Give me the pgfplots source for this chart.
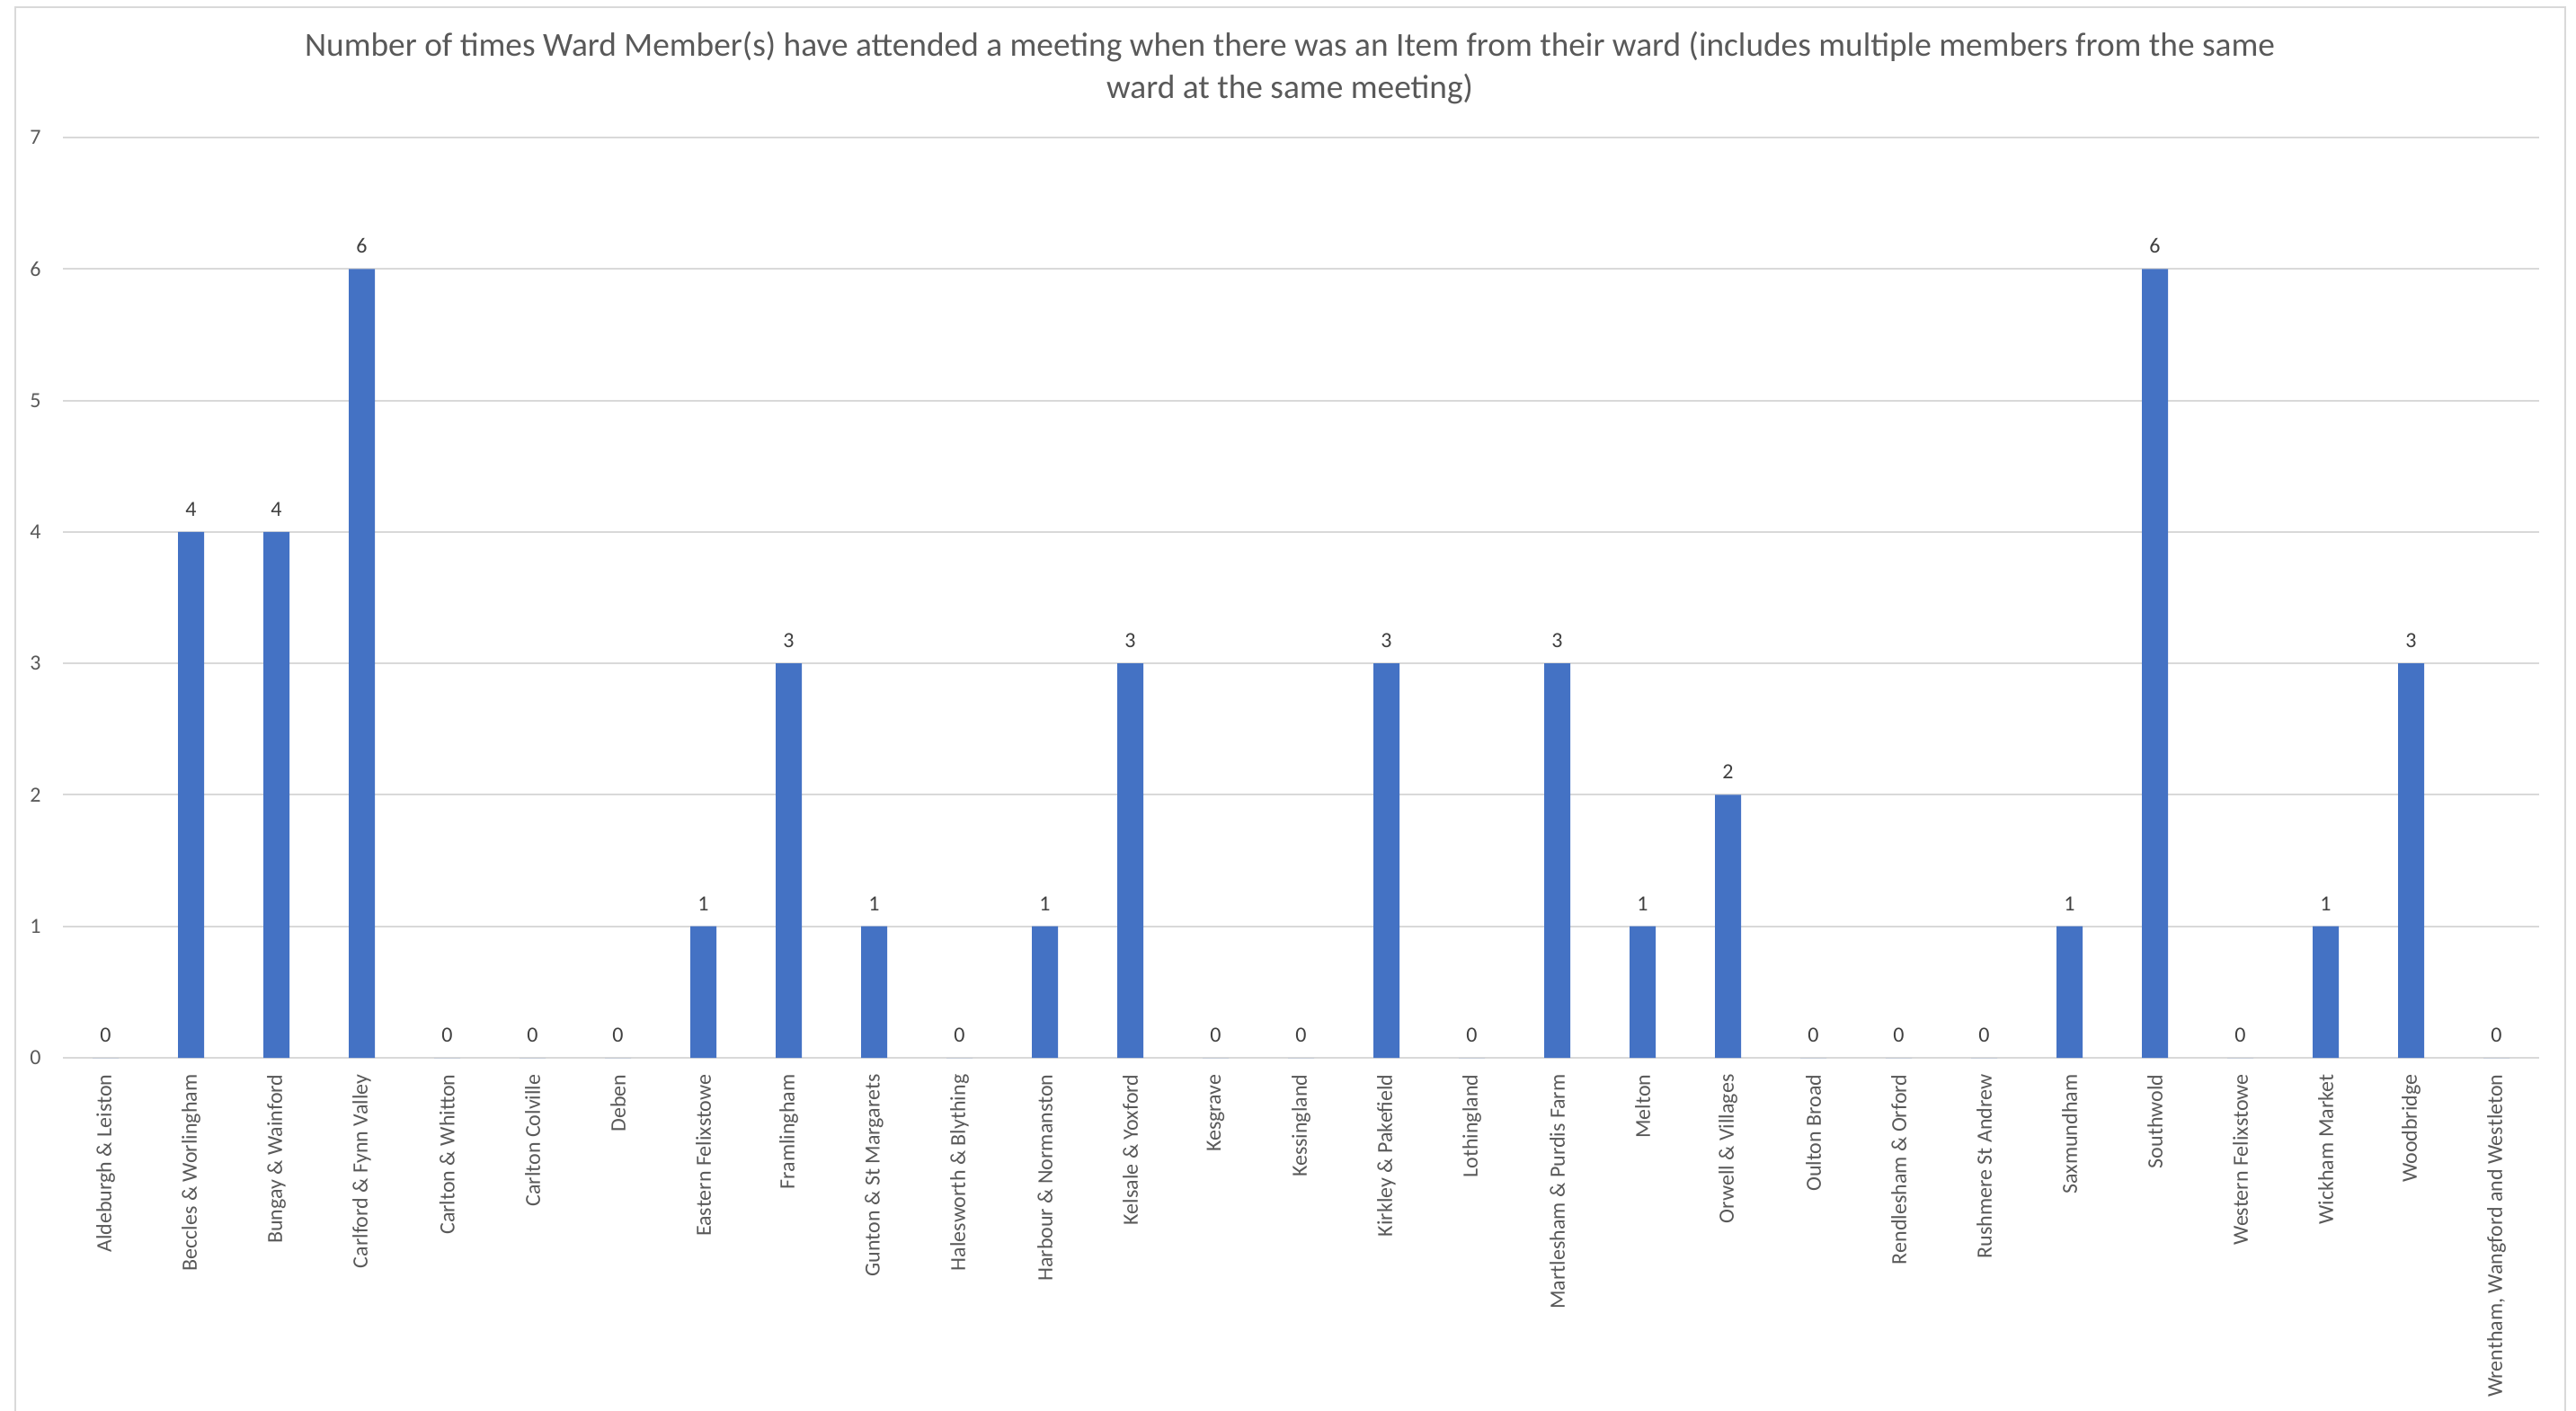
\documentclass[border=0pt]{standalone}
\usepackage{fontspec}
\setmainfont{Carlito}
\usepackage{pgfplots}
\pgfplotsset{compat=1.18}
\definecolor{barblue}{HTML}{4472C4}
\definecolor{gridgrey}{HTML}{D9D9D9}
\definecolor{ticktext}{HTML}{595959}
\definecolor{labtext}{HTML}{404040}
\begin{document}
\begin{tikzpicture}
\useasboundingbox (0pt,0pt) rectangle (1074.75pt,588.375pt);
% chart frame (px*0.375, y from bottom)
\draw[gridgrey, line width=0.75pt] (6.375pt,-2pt) -- (6.375pt,585.375pt) -- (1070.25pt,585.375pt) -- (1070.25pt,-2pt);
% title
\node[anchor=base, text=ticktext, font=\fontsize{14}{17}\selectfont, inner sep=0pt] at (538.125pt,564.75pt)
  {Number of times Ward Member(s) have attended a meeting when there was an Item from their ward (includes multiple members from the same};
\node[anchor=base, text=ticktext, font=\fontsize{14}{17}\selectfont, inner sep=0pt] at (538.125pt,547.125pt)
  {ward at the same meeting)};
\begin{axis}[
  scale only axis,
  width=1033.125pt, height=384pt,
  at={(26.25pt,147pt)}, anchor=south west,
  xmin=-0.5, xmax=28.5, ymin=0, ymax=7,
  ytick={0,1,2,3,4,5,6,7},
  xtick={0,...,28},
  xticklabels={{Aldeburgh \& Leiston},{Beccles \& Worlingham},{Bungay \& Wainford},{Carlford \& Fynn Valley},{Carlton \& Whitton},{Carlton Colville},{Deben},{Eastern Felixstowe},{Framlingham},{Gunton \& St Margarets},{Halesworth \& Blything},{Harbour \& Normanston},{Kelsale \& Yoxford},{Kesgrave},{Kessingland},{Kirkley \& Pakefield},{Lothingland},{Martlesham \& Purdis Farm},{Melton},{Orwell \& Villages},{Oulton Broad},{Rendlesham \& Orford},{Rushmere St Andrew},{Saxmundham},{Southwold},{Western Felixstowe},{Wickham Market},{Woodbridge},{Wrentham, Wangford and Westleton}},
  major tick length=0pt,
  axis line style={draw=none},
  ymajorgrids,
  grid style={gridgrey, line width=0.75pt},
  /pgf/number format/assume math mode=true,
  xticklabel style={rotate=90, anchor=east, inner xsep=6.75pt, inner ysep=0pt, font=\fontsize{9}{11}\selectfont, text=ticktext},
  yticklabel style={anchor=east, inner sep=0pt, xshift=-9pt, font=\fontsize{9}{11}\selectfont, text=ticktext},
  ybar, bar width=10.875pt,
  nodes near coords,
  every node near coord/.append style={anchor=south, inner xsep=0pt, inner ysep=6.4pt, font=\fontsize{9}{11}\selectfont, text=labtext},
  clip=false,
]
\addplot[fill=barblue, draw=none] coordinates {
(0,0) (1,4) (2,4) (3,6) (4,0) (5,0) (6,0) (7,1) (8,3) (9,1)
(10,0) (11,1) (12,3) (13,0) (14,0) (15,3) (16,0) (17,3) (18,1) (19,2)
(20,0) (21,0) (22,0) (23,1) (24,6) (25,0) (26,1) (27,3) (28,0)
};
\end{axis}
\end{tikzpicture}
\end{document}
